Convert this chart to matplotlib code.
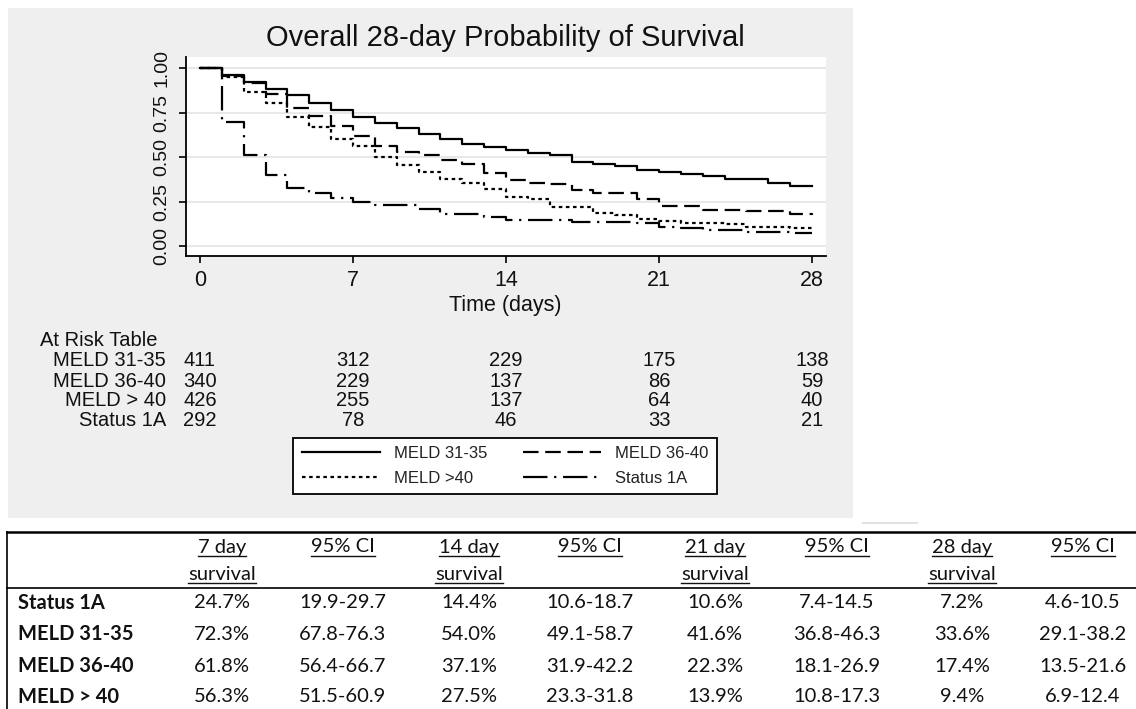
import numpy as np
import matplotlib
matplotlib.use('Agg')
import matplotlib.pyplot as plt
from matplotlib import font_manager
from matplotlib.patches import Rectangle
from matplotlib.lines import Line2D
from matplotlib.transforms import blended_transform_factory

W, H = 1136, 709

# Kaplan-Meier survival, one value per day (step post)
days = np.arange(0, 29)
meld_31_35 = [1.0, 0.961, 0.923, 0.880, 0.848, 0.803, 0.764, 0.723, 0.689, 0.664,
              0.632, 0.604, 0.572, 0.557, 0.540, 0.523, 0.510, 0.473, 0.463, 0.450,
              0.426, 0.417, 0.405, 0.391, 0.377, 0.375, 0.354, 0.338, 0.336]
meld_36_40 = [1.0, 0.958, 0.918, 0.856, 0.774, 0.731, 0.672, 0.618, 0.563, 0.529,
              0.510, 0.482, 0.460, 0.410, 0.371, 0.352, 0.350, 0.317, 0.298, 0.298,
              0.262, 0.224, 0.224, 0.201, 0.201, 0.196, 0.196, 0.181, 0.174]
meld_gt_40 = [1.0, 0.948, 0.863, 0.805, 0.726, 0.669, 0.601, 0.563, 0.500, 0.454,
              0.417, 0.379, 0.355, 0.323, 0.275, 0.263, 0.220, 0.220, 0.188, 0.173,
              0.154, 0.139, 0.129, 0.129, 0.122, 0.107, 0.107, 0.100, 0.094]
status_1a = [1.0, 0.698, 0.511, 0.399, 0.326, 0.298, 0.270, 0.247, 0.233, 0.233,
             0.210, 0.180, 0.180, 0.165, 0.144, 0.144, 0.144, 0.135, 0.135, 0.135,
             0.129, 0.106, 0.100, 0.092, 0.090, 0.080, 0.078, 0.074, 0.072]

# at risk table
risk_days = [0, 7, 14, 21, 28]
risk_groups = ['MELD 31-35', 'MELD 36-40', 'MELD > 40', 'Status 1A']
risk_counts = [[411, 312, 229, 175, 138],
               [340, 229, 137, 86, 59],
               [426, 255, 137, 64, 40],
               [292, 78, 46, 33, 21]]

# survival table under the figure
tab_rows = ['Status 1A', 'MELD 31-35', 'MELD 36-40', 'MELD > 40']
tab_head1 = ['7 day', '95% CI', '14 day', '95% CI', '21 day', '95% CI', '28 day', '95% CI']
tab_head2 = ['survival', '', 'survival', '', 'survival', '', 'survival', '']
tab_vals = [['24.7%', '19.9-29.7', '14.4%', '10.6-18.7', '10.6%', '7.4-14.5', '7.2%', '4.6-10.5'],
            ['72.3%', '67.8-76.3', '54.0%', '49.1-58.7', '41.6%', '36.8-46.3', '33.6%', '29.1-38.2'],
            ['61.8%', '56.4-66.7', '37.1%', '31.9-42.2', '22.3%', '18.1-26.9', '17.4%', '13.5-21.6'],
            ['56.3%', '51.5-60.9', '27.5%', '23.3-31.8', '13.9%', '10.8-17.3', '9.4%', '6.9-12.4']]


def fx(px):
    return px / W


def fy(py):
    return 1 - py / H


try:
    font_manager.findfont('Liberation Sans Narrow', fallback_to_default=False)
    narrow, ysize = 'Liberation Sans Narrow', 16
except Exception:
    narrow, ysize = 'Liberation Sans', 14

plt.rcParams['font.family'] = ['Liberation Sans', 'DejaVu Sans']

fig = plt.figure(figsize=(W / 100, H / 100), dpi=100, facecolor='white')

# grey graph region
fig.add_artist(Rectangle((fx(8), fy(518)), fx(853) - fx(8), fy(8) - fy(518),
                         transform=fig.transFigure, facecolor='#efefef',
                         edgecolor='none', zorder=0))

ax = fig.add_axes([fx(186), fy(256), fx(826) - fx(186), fy(57) - fy(256)])
ax.set_facecolor('white')
ax.set_xlim(-0.64, 28.64)
ax.set_ylim(-0.056, 1.062)

lw = 1.6
h1, = ax.step(days, meld_31_35, where='post', color='black', lw=lw, linestyle='-')
h2, = ax.step(days, meld_36_40, where='post', color='black', lw=lw, linestyle=(0, (7, 3)))
h3, = ax.step(days, meld_gt_40, where='post', color='black', lw=lw, linestyle=(0, (1.6, 1.6)))
h4, = ax.step(days, status_1a, where='post', color='black', lw=lw, linestyle=(0, (11, 3, 1, 3)))

ax.set_xticks([0, 7, 14, 21, 28])
ax.set_yticks([0, 0.25, 0.5, 0.75, 1.0])
ax.set_yticklabels(['0.00', '0.25', '0.50', '0.75', '1.00'], rotation=90, va='center',
                   family=narrow, fontsize=ysize, color='#111111')
ax.tick_params(axis='x', labelsize=15.5, labelcolor='#111111', length=5, width=1.2, pad=5,
               direction='out')
ax.tick_params(axis='y', length=5, width=1.2, pad=6, direction='out')
ax.yaxis.grid(True, color='#e6e6e6', lw=1.3)
ax.set_axisbelow(True)
for s in ['top', 'right']:
    ax.spines[s].set_visible(False)
for s in ['left', 'bottom']:
    ax.spines[s].set_linewidth(1.3)

fig.text(fx(505), fy(38), 'Overall 28-day Probability of Survival', ha='center', va='center',
         fontsize=21, color='#111111')
fig.text(fx(505), fy(305), 'Time (days)', ha='center', va='center', fontsize=15.5, color='#111111')

# at risk table
tr = blended_transform_factory(ax.transData, fig.transFigure)
fig.text(fx(40), fy(341), 'At Risk Table', ha='left', va='center', fontsize=14.5, color='#111111')
for i, g in enumerate(risk_groups):
    yy = fy(361 + 20 * i)
    fig.text(fx(166), yy, g, ha='right', va='center', fontsize=14.5, color='#111111')
    for d, n in zip(risk_days, risk_counts[i]):
        fig.text(d, yy, str(n), ha='center', va='center', fontsize=14.5, color='#111111',
                 transform=tr)

leg = fig.legend([h1, h3, h2, h4], ['MELD 31-35', 'MELD >40', 'MELD 36-40', 'Status 1A'],
                 ncol=2, loc='center', bbox_to_anchor=(fx(505), fy(466)), frameon=True,
                 fancybox=False, edgecolor='black', facecolor='white', framealpha=1,
                 fontsize=12, handlelength=4.7, handletextpad=0.85, columnspacing=2.1,
                 labelspacing=0.6, borderpad=0.5)
leg.get_frame().set_linewidth(1.3)
for t in leg.get_texts():
    t.set_color('#222222')

# survival table
tfont = 'Lato'
fs = 14.5
sur_x = [222, 469, 715, 962]
ci_x = [343, 590, 837, 1083]
col_x = [v for pair in zip(sur_x, ci_x) for v in pair]

fig.add_artist(Line2D([fx(7), 1], [fy(532), fy(532)], transform=fig.transFigure,
                      color='black', lw=1.8))
fig.add_artist(Line2D([fx(7), 1], [fy(588), fy(588)], transform=fig.transFigure,
                      color='black', lw=1.2))
fig.add_artist(Line2D([fx(7), fx(7)], [fy(532), 0], transform=fig.transFigure,
                      color='black', lw=1.2))
fig.add_artist(Line2D([fx(863), fx(917)], [fy(523), fy(523)], transform=fig.transFigure,
                      color='#e2e2e2', lw=1.5))

head_texts = []
for j, x in enumerate(col_x):
    t1 = fig.text(fx(x), fy(547), tab_head1[j], ha='center', va='center', fontsize=fs,
                  family=tfont, color='#111111')
    head_texts.append((t1, 547))
    if tab_head2[j]:
        t2 = fig.text(fx(x), fy(574), tab_head2[j], ha='center', va='center', fontsize=fs,
                      family=tfont, color='#111111')
        head_texts.append((t2, 574))

row_y = [603, 634, 666, 697]
for i, r in enumerate(tab_rows):
    fig.text(fx(18), fy(row_y[i]), r, ha='left', va='center', fontsize=fs, family=tfont,
             weight='bold', color='#111111')
    for j, x in enumerate(col_x):
        fig.text(fx(x), fy(row_y[i]), tab_vals[i][j], ha='center', va='center', fontsize=fs,
                 family=tfont, color='#111111')

# underline the header words
fig.canvas.draw()
rend = fig.canvas.get_renderer()
for t, yc in head_texts:
    bb = t.get_window_extent(rend)
    fig.add_artist(Line2D([bb.x0 / W, bb.x1 / W], [fy(yc + 8.5), fy(yc + 8.5)],
                          transform=fig.transFigure, color='#111111', lw=1.0))

fig.savefig('out.png', dpi=100, facecolor='white')
